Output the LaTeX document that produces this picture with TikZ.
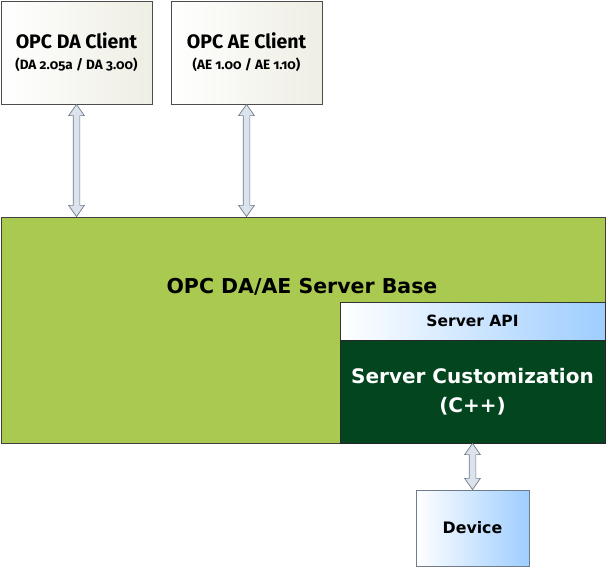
\documentclass[tikz,border=0pt]{standalone}
\usepackage{fontspec}
\setmainfont{DejaVu Sans}
\newfontfamily\clientfont[Numbers=OldStyle]{Fira Sans}
\usetikzlibrary{shapes.arrows,calc}
\definecolor{basegreen}{HTML}{A9C951}
\definecolor{darkgreen}{HTML}{03451F}
\definecolor{apiblue}{HTML}{9ECDFF}
\definecolor{clientend}{HTML}{EEEEE4}
\definecolor{arrowfill}{HTML}{DDE3EC}
\definecolor{arrowline}{HTML}{6E7C8C}
\tikzset{
  clientbox/.style={draw=black!70, line width=0.8pt, left color=white, right color=clientend, inner sep=0pt},
  bluebox/.style={draw=black!80, line width=0.8pt, left color=white, right color=apiblue, inner sep=0pt},
  link/.style={double arrow, draw=arrowline, fill=arrowfill, line width=0.7pt, inner sep=3pt, minimum width=15pt, double arrow head extend=4.5pt, double arrow tip angle=70}
}
\begin{document}
\begin{tikzpicture}[x=1pt,y=-1pt]
\useasboundingbox (0,0) rectangle (608,568);
% clients
\node[clientbox, minimum width=151pt, minimum height=103pt] (da) at (76.5,52.5) {};
\node[font=\clientfont\bfseries\fontsize{19.5}{22}\selectfont] (datitle) at (76.5,41) {OPC DA Client};
\node[font=\clientfont\bfseries\fontsize{13.5}{15}\selectfont] (dasub) at (76.5,65) {(DA 2.05a / DA 3.00)};
\node[clientbox, minimum width=151pt, minimum height=103pt] (ae) at (246.5,52.5) {};
\node[font=\clientfont\bfseries\fontsize{19.5}{22}\selectfont] (aetitle) at (246.5,41) {OPC AE Client};
\node[font=\clientfont\bfseries\fontsize{13.5}{15}\selectfont] (aesub) at (246.5,65) {(AE 1.00 / AE 1.10)};
% base
\node[draw=black!75, line width=0.8pt, fill=basegreen, minimum width=604pt, minimum height=226pt, inner sep=0pt] (base) at (303,330) {};
\node[font=\bfseries\fontsize{20.5}{24}\selectfont] (basetitle) at (302,287) {OPC DA/AE Server Base};
\node[bluebox, minimum width=265pt, minimum height=38pt] (api) at (472.5,321) {};
\node[font=\bfseries\fontsize{15.5}{18}\selectfont] (apitext) at (472.5,321) {Server API};
\node[draw=black!85, line width=0.8pt, fill=darkgreen, minimum width=265pt, minimum height=103pt, inner sep=0pt] (cust) at (472.5,391.5) {};
\node[font=\bfseries\fontsize{20}{29}\selectfont, text=white, align=center] (custtext) at (472.5,392) {Server Customization\\(C++)};
% device
\node[bluebox, draw=arrowline, minimum width=113pt, minimum height=76pt] (dev) at (472.5,528) {};
\node[font=\bfseries\fontsize{15.8}{18}\selectfont] (devtext) at (472.5,528) {Device};
% links
\path let \p1=(da.south), \p2=(base.north) in node[link, rotate=90, minimum height={\y1-\y2}] (l1) at ($(\x1,\y1)!0.5!(\x1,\y2)$) {};
\path let \p1=(ae.south), \p2=(base.north) in node[link, rotate=90, minimum height={\y1-\y2}] (l2) at ($(\x1,\y1)!0.5!(\x1,\y2)$) {};
\path let \p1=(cust.south), \p2=(dev.north) in node[link, rotate=90, minimum height={\y1-\y2}] (l3) at ($(\x1,\y1)!0.5!(\x1,\y2)$) {};
\end{tikzpicture}
\end{document}
